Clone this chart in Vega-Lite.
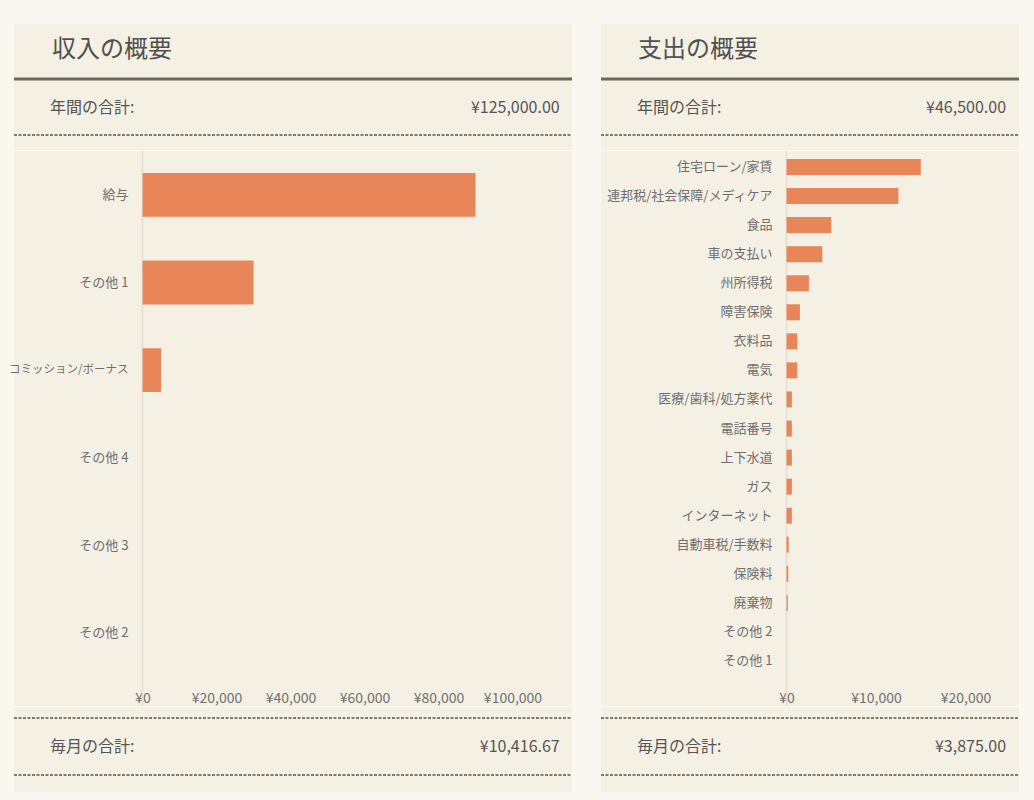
{
  "$schema": "https://vega.github.io/schema/vega-lite/v6.json",
  "background": "#FAF7F0",
  "padding": {"left": 8, "top": 24, "right": 15, "bottom": 10},
  "config": {
    "view": {"fill": "#F4F0E4", "stroke": null},
    "font": "Noto Sans CJK JP",
    "concat": {"spacing": 0}
  },
  "datasets": {
    "income": [
      {"category": "給与", "amount": 90000},
      {"category": "その他 1", "amount": 30000},
      {"category": "コミッション/ボーナス", "amount": 5000},
      {"category": "その他 4", "amount": 0},
      {"category": "その他 3", "amount": 0},
      {"category": "その他 2", "amount": 0}
    ],
    "expense": [
      {"category": "住宅ローン/家賃", "amount": 15000},
      {"category": "連邦税/社会保障/メディケア", "amount": 12500},
      {"category": "食品", "amount": 5000},
      {"category": "車の支払い", "amount": 4000},
      {"category": "州所得税", "amount": 2500},
      {"category": "障害保険", "amount": 1500},
      {"category": "衣料品", "amount": 1200},
      {"category": "電気", "amount": 1200},
      {"category": "医療/歯科/処方薬代", "amount": 600},
      {"category": "電話番号", "amount": 600},
      {"category": "上下水道", "amount": 600},
      {"category": "ガス", "amount": 600},
      {"category": "インターネット", "amount": 600},
      {"category": "自動車税/手数料", "amount": 250},
      {"category": "保険料", "amount": 200},
      {"category": "廃棄物", "amount": 150},
      {"category": "その他 2", "amount": 0},
      {"category": "その他 1", "amount": 0}
    ],
    "summary": [
      {"panel": "収入", "kind": "title", "label": "収入の概要", "amount": ""},
      {"panel": "収入", "kind": "annual", "label": "年間の合計:", "amount": "¥125,000.00"},
      {"panel": "収入", "kind": "monthly", "label": "毎月の合計:", "amount": "¥10,416.67"},
      {"panel": "支出", "kind": "title", "label": "支出の概要", "amount": ""},
      {"panel": "支出", "kind": "annual", "label": "年間の合計:", "amount": "¥46,500.00"},
      {"panel": "支出", "kind": "monthly", "label": "毎月の合計:", "amount": "¥3,875.00"}
    ]
  },
  "spacing": 25,
  "hconcat": [
    {
      "spacing": 0,
      "vconcat": [
        {
          "width": 558, "height": 126,
          "data": {"name": "summary"},
          "transform": [{"filter": "datum.panel === '収入'"}],
          "layer": [
            {
              "transform": [{"filter": "datum.kind === 'title'"}],
              "mark": {"type": "text", "align": "left", "baseline": "middle", "fontSize": 24, "color": "#505050"},
              "encoding": {
                "x": {"datum": 0.068, "type": "quantitative", "scale": {"domain": [0, 1], "nice": false}, "axis": null},
                "y": {"datum": 0.206, "type": "quantitative", "scale": {"domain": [0, 1], "nice": false, "reverse": true}, "axis": null},
                "text": {"field": "label"}
              }
            },
            {
              "transform": [{"filter": "datum.kind === 'title'"}],
              "mark": {"type": "rule", "color": "#6B6857", "strokeWidth": 3},
              "encoding": {
                "x": {"datum": 0, "type": "quantitative"},
                "x2": {"datum": 1},
                "y": {"datum": 0.4365, "type": "quantitative"}
              }
            },
            {
              "transform": [{"filter": "datum.kind === 'annual'"}],
              "mark": {"type": "text", "align": "left", "baseline": "middle", "fontSize": 16, "color": "#555555"},
              "encoding": {
                "x": {"datum": 0.0645, "type": "quantitative"},
                "y": {"datum": 0.667, "type": "quantitative"},
                "text": {"field": "label"}
              }
            },
            {
              "transform": [{"filter": "datum.kind === 'annual'"}],
              "mark": {"type": "text", "align": "right", "baseline": "middle", "fontSize": 16, "color": "#555555"},
              "encoding": {
                "x": {"datum": 0.978, "type": "quantitative"},
                "y": {"datum": 0.667, "type": "quantitative"},
                "text": {"field": "amount"}
              }
            },
            {
              "transform": [{"filter": "datum.kind === 'annual'"}],
              "mark": {"type": "rule", "color": "#7E7B70", "strokeWidth": 2, "strokeDash": [3, 1.5]},
              "encoding": {
                "x": {"datum": 0, "type": "quantitative"},
                "x2": {"datum": 1},
                "y": {"datum": 0.881, "type": "quantitative"}
              }
            }
          ]
        },
        {
          "width": 558, "height": 555,
          "data": {"name": "income"},
          "layer": [
            {
              "transform": [{"aggregate": [{"op": "count", "as": "n"}]}],
              "mark": {"type": "rule", "color": "#E2DED3", "strokeWidth": 1.5},
              "encoding": {
                "x": {"datum": 0, "type": "quantitative"}
              }
            },
            {
              "mark": {"type": "bar", "color": "#E8865A"},
              "encoding": {
                "y": {"field": "category", "type": "nominal", "sort": null, "axis": null, "scale": {"paddingInner": 0.5, "paddingOuter": 0.4153, "align": 0.301}},
                "x": {
                  "field": "amount", "type": "quantitative",
                  "scale": {"domain": [-34730, 116080], "nice": false, "zero": false},
                  "axis": {
                    "values": [0, 20000, 40000, 60000, 80000, 100000],
                    "labelExpr": "'¥' + format(datum.value, ',')",
                    "domain": false, "ticks": false, "tickSize": 0, "grid": false, "offset": -29,
                    "labelPadding": 14, "labelFontSize": 14, "labelColor": "#707070",
                    "labelOverlap": false, "labelFlush": false, "title": null
                  }
                },
                "x2": {"datum": 0}
              }
            },
            {
              "mark": {"type": "text", "align": "right", "baseline": "middle", "dx": -14, "color": "#6E6E6E"},
              "encoding": {
                "y": {"field": "category", "type": "nominal", "sort": null, "axis": null},
                "x": {"datum": 0, "type": "quantitative"},
                "text": {"field": "category"},
                "size": {"condition": {"test": "length(datum.category) > 8", "value": 11.5}, "value": 13}
              }
            }
          ]
        },
        {
          "width": 558, "height": 85,
          "data": {"name": "summary"},
          "transform": [{"filter": "datum.panel === '収入' && datum.kind === 'monthly'"}],
          "layer": [
            {
              "mark": {"type": "rule", "color": "#7E7B70", "strokeWidth": 2, "strokeDash": [3, 1.5]},
              "encoding": {
                "x": {"datum": 0, "type": "quantitative", "scale": {"domain": [0, 1], "nice": false}, "axis": null},
                "x2": {"datum": 1},
                "y": {"datum": 0.13, "type": "quantitative", "scale": {"domain": [0, 1], "nice": false, "reverse": true}, "axis": null}
              }
            },
            {
              "mark": {"type": "text", "align": "left", "baseline": "middle", "fontSize": 16, "color": "#555555"},
              "encoding": {
                "x": {"datum": 0.0645, "type": "quantitative"},
                "y": {"datum": 0.475, "type": "quantitative"},
                "text": {"field": "label"}
              }
            },
            {
              "mark": {"type": "text", "align": "right", "baseline": "middle", "fontSize": 16, "color": "#555555"},
              "encoding": {
                "x": {"datum": 0.978, "type": "quantitative"},
                "y": {"datum": 0.475, "type": "quantitative"},
                "text": {"field": "amount"}
              }
            },
            {
              "mark": {"type": "rule", "color": "#7E7B70", "strokeWidth": 2, "strokeDash": [3, 1.5]},
              "encoding": {
                "x": {"datum": 0, "type": "quantitative"},
                "x2": {"datum": 1},
                "y": {"datum": 0.8, "type": "quantitative"}
              }
            }
          ]
        }
      ]
    },
    {
      "spacing": 0,
      "vconcat": [
        {
          "width": 418, "height": 126,
          "data": {"name": "summary"},
          "transform": [{"filter": "datum.panel === '支出'"}],
          "layer": [
            {
              "transform": [{"filter": "datum.kind === 'title'"}],
              "mark": {"type": "text", "align": "left", "baseline": "middle", "fontSize": 24, "color": "#505050"},
              "encoding": {
                "x": {"datum": 0.0885, "type": "quantitative", "scale": {"domain": [0, 1], "nice": false}, "axis": null},
                "y": {"datum": 0.206, "type": "quantitative", "scale": {"domain": [0, 1], "nice": false, "reverse": true}, "axis": null},
                "text": {"field": "label"}
              }
            },
            {
              "transform": [{"filter": "datum.kind === 'title'"}],
              "mark": {"type": "rule", "color": "#6B6857", "strokeWidth": 3},
              "encoding": {
                "x": {"datum": 0, "type": "quantitative"},
                "x2": {"datum": 1},
                "y": {"datum": 0.4365, "type": "quantitative"}
              }
            },
            {
              "transform": [{"filter": "datum.kind === 'annual'"}],
              "mark": {"type": "text", "align": "left", "baseline": "middle", "fontSize": 16, "color": "#555555"},
              "encoding": {
                "x": {"datum": 0.086, "type": "quantitative"},
                "y": {"datum": 0.667, "type": "quantitative"},
                "text": {"field": "label"}
              }
            },
            {
              "transform": [{"filter": "datum.kind === 'annual'"}],
              "mark": {"type": "text", "align": "right", "baseline": "middle", "fontSize": 16, "color": "#555555"},
              "encoding": {
                "x": {"datum": 0.969, "type": "quantitative"},
                "y": {"datum": 0.667, "type": "quantitative"},
                "text": {"field": "amount"}
              }
            },
            {
              "transform": [{"filter": "datum.kind === 'annual'"}],
              "mark": {"type": "rule", "color": "#7E7B70", "strokeWidth": 2, "strokeDash": [3, 1.5]},
              "encoding": {
                "x": {"datum": 0, "type": "quantitative"},
                "x2": {"datum": 1},
                "y": {"datum": 0.881, "type": "quantitative"}
              }
            }
          ]
        },
        {
          "width": 418, "height": 555,
          "data": {"name": "expense"},
          "layer": [
            {
              "transform": [{"aggregate": [{"op": "count", "as": "n"}]}],
              "mark": {"type": "rule", "color": "#E2DED3", "strokeWidth": 1.5},
              "encoding": {
                "x": {"datum": 0, "type": "quantitative"}
              }
            },
            {
              "mark": {"type": "bar", "color": "#E8865A"},
              "encoding": {
                "y": {"field": "category", "type": "nominal", "sort": null, "axis": null, "scale": {"paddingInner": 0.45, "paddingOuter": 0.774, "align": 0.1776}},
                "x": {
                  "field": "amount", "type": "quantitative",
                  "scale": {"domain": [-20726, 25978], "nice": false, "zero": false},
                  "axis": {
                    "values": [0, 10000, 20000],
                    "labelExpr": "'¥' + format(datum.value, ',')",
                    "domain": false, "ticks": false, "tickSize": 0, "grid": false, "offset": -29,
                    "labelPadding": 14, "labelFontSize": 14, "labelColor": "#707070",
                    "labelOverlap": false, "labelFlush": false, "title": null
                  }
                },
                "x2": {"datum": 0}
              }
            },
            {
              "mark": {"type": "text", "align": "right", "baseline": "middle", "dx": -14, "fontSize": 13, "color": "#6E6E6E"},
              "encoding": {
                "y": {"field": "category", "type": "nominal", "sort": null, "axis": null},
                "x": {"datum": 0, "type": "quantitative"},
                "text": {"field": "category"}
              }
            }
          ]
        },
        {
          "width": 418, "height": 85,
          "data": {"name": "summary"},
          "transform": [{"filter": "datum.panel === '支出' && datum.kind === 'monthly'"}],
          "layer": [
            {
              "mark": {"type": "rule", "color": "#7E7B70", "strokeWidth": 2, "strokeDash": [3, 1.5]},
              "encoding": {
                "x": {"datum": 0, "type": "quantitative", "scale": {"domain": [0, 1], "nice": false}, "axis": null},
                "x2": {"datum": 1},
                "y": {"datum": 0.13, "type": "quantitative", "scale": {"domain": [0, 1], "nice": false, "reverse": true}, "axis": null}
              }
            },
            {
              "mark": {"type": "text", "align": "left", "baseline": "middle", "fontSize": 16, "color": "#555555"},
              "encoding": {
                "x": {"datum": 0.086, "type": "quantitative"},
                "y": {"datum": 0.475, "type": "quantitative"},
                "text": {"field": "label"}
              }
            },
            {
              "mark": {"type": "text", "align": "right", "baseline": "middle", "fontSize": 16, "color": "#555555"},
              "encoding": {
                "x": {"datum": 0.969, "type": "quantitative"},
                "y": {"datum": 0.475, "type": "quantitative"},
                "text": {"field": "amount"}
              }
            },
            {
              "mark": {"type": "rule", "color": "#7E7B70", "strokeWidth": 2, "strokeDash": [3, 1.5]},
              "encoding": {
                "x": {"datum": 0, "type": "quantitative"},
                "x2": {"datum": 1},
                "y": {"datum": 0.8, "type": "quantitative"}
              }
            }
          ]
        }
      ]
    }
  ]
}
